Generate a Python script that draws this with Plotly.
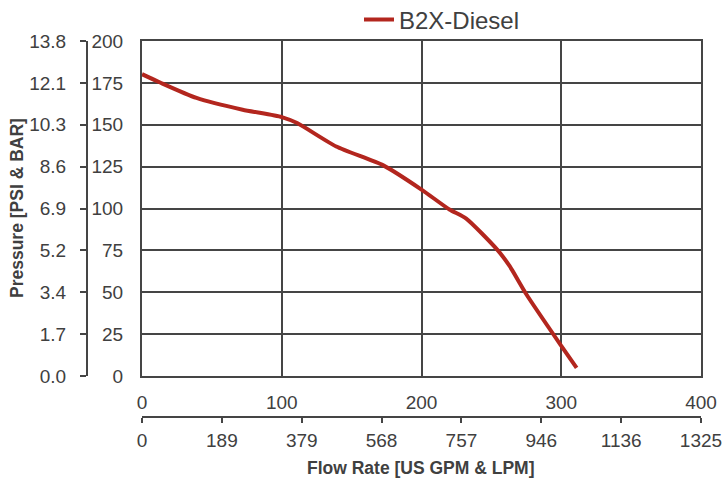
import plotly.graph_objects as go

# Data
flow_gpm = [0, 13, 39, 72, 100, 111, 139, 173, 200, 220, 232, 254, 263, 275, 300, 311]
pressure_psi = [180.2, 175.2, 166.0, 159.0, 154.6, 151.0, 137.0, 125.6, 111.3, 99.4, 94.0, 75.6, 65.7, 48.8, 18.0, 4.8]
series_name = "B2X-Diesel"

psi_ticks = [0, 25, 50, 75, 100, 125, 150, 175, 200]
bar_labels = ["0.0", "1.7", "3.4", "5.2", "6.9", "8.6", "10.3", "12.1", "13.8"]
gpm_ticks = [0, 100, 200, 300, 400]
lpm_labels = ["0", "189", "379", "568", "757", "946", "1136", "1325"]
lpm_tick_gpm = [0, 57.14, 114.29, 171.43, 228.57, 285.71, 342.86, 400]

W, H = 724, 480
plot_left, plot_right, plot_top, plot_bottom = 142, 701, 41, 376
ml, mr, mt, mb = 0, W - plot_right, plot_top, 0
pw, ph = W - ml - mr, H - mt - mb


def px(xp):
    return (xp - ml) / pw


def py(yp):
    return (H - yp) / ph


TXT = "#404040"
GRID = "#454545"
FONT = "Liberation Sans, Arial, sans-serif"
TICKFONT = dict(family=FONT, size=19, color=TXT)

fig = go.Figure()
fig.add_trace(go.Scatter(
    x=flow_gpm, y=pressure_psi, mode="lines", name=series_name,
    line=dict(color="#B3261E", width=4, shape="spline", smoothing=0.6),
))
fig.add_trace(go.Scatter(x=[0], y=[0], xaxis="x2", yaxis="y2", mode="markers",
                         marker=dict(opacity=0), showlegend=False, hoverinfo="skip"))

fig.update_layout(
    width=W, height=H,
    margin=dict(l=ml, r=mr, t=mt, b=mb, autoexpand=False),
    paper_bgcolor="white", plot_bgcolor="white",
    font=dict(family=FONT, size=19, color=TXT),
    showlegend=True,
    legend=dict(orientation="h", x=px(442), xanchor="center",
                y=py(20), yanchor="middle",
                font=dict(family=FONT, size=24, color=TXT), bgcolor="rgba(0,0,0,0)"),
    xaxis=dict(domain=[px(plot_left), 1], range=[0, 400], tickvals=gpm_ticks,
               tickfont=TICKFONT,
               showgrid=True, gridcolor=GRID, gridwidth=2,
               showline=True, linecolor=GRID, linewidth=2, mirror=True,
               zeroline=False, ticks="", ticklabelstandoff=8),
    yaxis=dict(domain=[py(plot_bottom), 1], range=[0, 200], tickvals=psi_ticks,
               tickfont=TICKFONT,
               showgrid=True, gridcolor=GRID, gridwidth=2,
               showline=True, linecolor=GRID, linewidth=2, mirror=True,
               zeroline=False, ticks="", ticklabelstandoff=13),
    xaxis2=dict(overlaying="x", anchor="free", position=py(417), side="bottom",
                range=[0, 400], tickvals=lpm_tick_gpm, ticktext=lpm_labels,
                tickfont=TICKFONT,
                showgrid=False, zeroline=False, showline=True, linecolor=GRID, linewidth=2,
                ticks="outside", ticklen=5, tickwidth=2, tickcolor=GRID, ticklabelstandoff=1),
    yaxis2=dict(overlaying="y", anchor="free", position=px(87), side="left",
                range=[0, 200], tickvals=psi_ticks, ticktext=bar_labels,
                tickfont=TICKFONT,
                showgrid=False, zeroline=False, showline=True, linecolor=GRID, linewidth=2,
                ticks="outside", ticklen=6, tickwidth=2, tickcolor=GRID, ticklabelstandoff=10),
    annotations=[
        dict(text="<b>Flow Rate [US GPM & LPM]</b>", xref="paper", yref="paper",
             x=px(421), y=py(468), xanchor="center", yanchor="middle",
             showarrow=False, font=dict(family=FONT, size=17.5, color=TXT)),
        dict(text="<b>Pressure [PSI & BAR]</b>", xref="paper", yref="paper",
             x=px(17), y=py(208), xanchor="center", yanchor="middle",
             textangle=-90, showarrow=False, font=dict(family=FONT, size=17.5, color=TXT)),
    ],
)

fig.write_html(
    "out.html",
    config={"displayModeBar": False, "staticPlot": True},
    post_script="document.body.style.margin='0px';document.body.style.overflow='hidden';",
)
